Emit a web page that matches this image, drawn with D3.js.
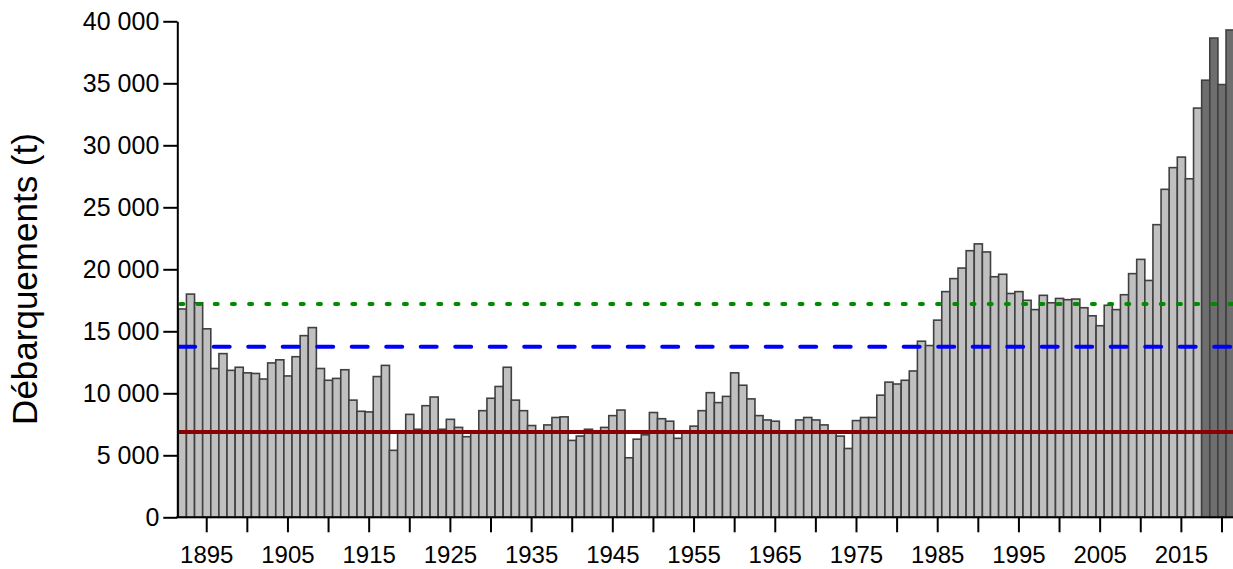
<!DOCTYPE html>
<html>
<head>
<meta charset="utf-8">
<script src="https://cdn.jsdelivr.net/npm/d3@7"></script>
<style>
  html, body { margin: 0; padding: 0; background: #fff; }
  svg { display: block; }
  text { font-family: "Liberation Sans", Arial, sans-serif; fill: #000; }
</style>
</head>
<body>
<svg id="chart" width="1233" height="569"></svg>
<script>
// ---- Data ----
const years = [
  1892,1893,1894,1895,1896,1897,1898,1899,1900,1901,
  1902,1903,1904,1905,1906,1907,1908,1909,1910,1911,
  1912,1913,1914,1915,1916,1917,1918,1919,1920,1921,
  1922,1923,1924,1925,1926,1927,1928,1929,1930,1931,
  1932,1933,1934,1935,1936,1937,1938,1939,1940,1941,
  1942,1943,1944,1945,1946,1947,1948,1949,1950,1951,
  1952,1953,1954,1955,1956,1957,1958,1959,1960,1961,
  1962,1963,1964,1965,1966,1967,1968,1969,1970,1971,
  1972,1973,1974,1975,1976,1977,1978,1979,1980,1981,
  1982,1983,1984,1985,1986,1987,1988,1989,1990,1991,
  1992,1993,1994,1995,1996,1997,1998,1999,2000,2001,
  2002,2003,2004,2005,2006,2007,2008,2009,2010,2011,
  2012,2013,2014,2015,2016,2017,2018,2019,2020,2021
];
const landings = [
  16800,18000,17300,15200,12000,13200,11850,12100,11650,11600,
  11150,12450,12700,11400,12950,14650,15300,12000,11050,11200,
  11900,9450,8550,8500,11350,12250,5400,6850,8300,7100,
  9000,9700,7100,7900,7250,6500,6850,8600,9600,10550,
  12100,9450,8600,7400,6900,7450,8050,8100,6200,6550,
  7100,6900,7250,8200,8650,4800,6300,6650,8450,7950,
  7750,6370,6900,7350,8600,10050,9250,9750,11650,10650,
  9550,8200,7850,7750,6900,6850,7850,8050,7850,7450,
  6900,6550,5550,7800,8050,8050,9850,10900,10750,11050,
  11800,14200,13850,15900,18200,19250,20100,21500,22050,21400,
  19400,19600,18050,18200,17500,16750,17900,17300,17650,17550,
  17600,16900,16250,15450,17100,16750,17950,19650,20800,19100,
  23600,26450,28200,29050,27300,33000,35250,38650,34900,39300
];
const darkYears = [2018, 2019, 2020, 2021];
const refLevels = [
  { name: "green", value: 17200 },
  { name: "blue",  value: 13760 },
  { name: "red",   value: 6880 }
];
const yTicks = [0, 5000, 10000, 15000, 20000, 25000, 30000, 35000, 40000];
const xTickYears = [1895,1900,1905,1910,1915,1920,1925,1930,1935,1940,1945,1950,1955,1960,1965,1970,1975,1980,1985,1990,1995,2000,2005,2010,2015,2020];
const xLabelYears = [1895,1905,1915,1925,1935,1945,1955,1965,1975,1985,1995,2005,2015];
const yTitle = "Débarquements (t)";

// ---- Layout ----
const svg = d3.select("#chart");
const axisX = 177.3;
const x = d3.scaleBand().domain(years).range([178.3, 178.3 + years.length * 8.122]).padding(0);
const y = d3.scaleLinear().domain([0, 40000]).range([517.3, 21.3]);

const loc = d3.formatLocale({ decimal: ",", thousands: "\u00a0", grouping: [3], currency: ["", ""] });
const fmt = loc.format(",d");

// Bars
svg.append("g").selectAll("rect")
  .data(years.map((yr, i) => ({ yr, v: landings[i] })))
  .join("rect")
  .attr("x", d => x(d.yr))
  .attr("width", x.bandwidth())
  .attr("y", d => y(d.v))
  .attr("height", d => y(0) - y(d.v))
  .attr("fill", d => darkYears.includes(d.yr) ? "#6e6e6e" : "#c0c0c0")
  .attr("stroke", "#404040")
  .attr("stroke-width", 1.6);

// Reference lines
const lineStyles = {
  green: { color: "#008a00", dash: "3 14.2", cap: "round", start: 180.3 },
  blue:  { color: "#0000ff", dash: "16 18.5", cap: "round", start: 179.2 },
  red:   { color: "#8b0000", dash: null, cap: "butt", start: axisX }
};
svg.append("g").selectAll("line")
  .data(refLevels)
  .join("line")
  .attr("x1", d => lineStyles[d.name].start)
  .attr("x2", 1240)
  .attr("y1", d => y(d.value))
  .attr("y2", d => y(d.value))
  .attr("stroke", d => lineStyles[d.name].color)
  .attr("stroke-width", 4)
  .attr("stroke-linecap", d => lineStyles[d.name].cap)
  .attr("stroke-dasharray", d => lineStyles[d.name].dash);

// Y axis
const yAxis = d3.axisLeft(y).tickValues(yTicks).tickFormat(fmt).tickSize(14).tickSizeOuter(0).tickPadding(4);
const gy = svg.append("g").attr("transform", `translate(${axisX},0)`).call(yAxis);
gy.select(".domain").attr("stroke", "#000").attr("stroke-width", 2);
gy.selectAll(".tick line").attr("stroke", "#000").attr("stroke-width", 2);
gy.selectAll(".tick text").style("font-size", "25px").style("font-family", "'Liberation Sans', Arial, sans-serif").attr("fill", "#000");

// X axis
const xAxis = d3.axisBottom(x).tickValues(xTickYears)
  .tickFormat(d => xLabelYears.includes(d) ? String(d) : "")
  .tickSize(15).tickSizeOuter(0).tickPadding(14);
const gx = svg.append("g").attr("transform", `translate(0,${y(0)})`).call(xAxis);
gx.select(".domain").remove();
gx.selectAll(".tick line").attr("stroke", "#000").attr("stroke-width", 2);
gx.selectAll(".tick text").style("font-size", "24px").style("font-family", "'Liberation Sans', Arial, sans-serif").attr("fill", "#000");
svg.append("line")
  .attr("x1", axisX - 1).attr("x2", 1240)
  .attr("y1", y(0)).attr("y2", y(0))
  .attr("stroke", "#000").attr("stroke-width", 2);

// Y title
svg.append("text")
  .attr("transform", `translate(37,279) rotate(-90)`)
  .attr("text-anchor", "middle")
  .style("font-size", "35px")
  .text(yTitle);
</script>
</body>
</html>
